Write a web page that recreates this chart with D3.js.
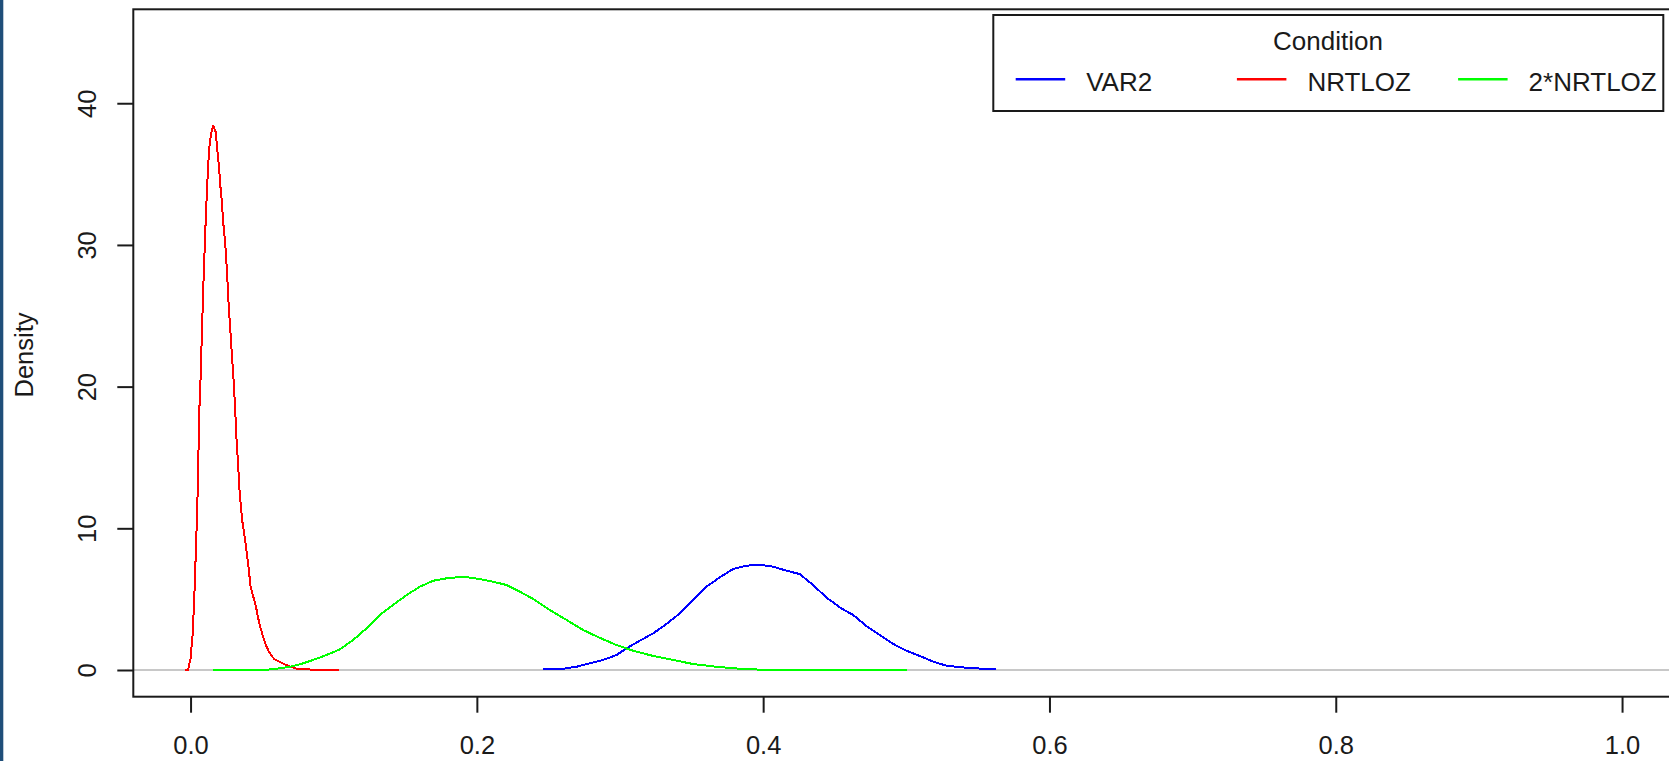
<!DOCTYPE html>
<html>
<head>
<meta charset="utf-8">
<script src="https://cdn.jsdelivr.net/npm/d3@7"></script>
<style>
  html, body { margin: 0; padding: 0; background: #ffffff; }
  svg { display: block; }
  text { font-family: "Liberation Sans", Arial, sans-serif; fill: #1a1a1a; }
</style>
</head>
<body>
<svg id="chart" width="1669" height="761"></svg>
<script>
// Kernel density estimates of the three conditions: [value, density]
const var2Density = [
  [0.2459, 0.05], [0.2603, 0.09], [0.2696, 0.23], [0.2789, 0.47], [0.2882, 0.71],
  [0.2976, 1.06], [0.3046, 1.53], [0.3139, 2.07], [0.3232, 2.59], [0.3325, 3.25],
  [0.3418, 4.00], [0.3511, 4.94], [0.3604, 5.88], [0.3697, 6.54], [0.3790, 7.13],
  [0.3884, 7.36], [0.3977, 7.43], [0.4070, 7.29], [0.4163, 7.01], [0.4256, 6.77],
  [0.4349, 5.99], [0.4442, 5.12], [0.4535, 4.42], [0.4629, 3.88], [0.4722, 3.10],
  [0.4815, 2.47], [0.4908, 1.84], [0.5002, 1.36], [0.5095, 0.99], [0.5188, 0.59],
  [0.5281, 0.30], [0.5421, 0.16], [0.5561, 0.07], [0.5630, 0.07]
];

const nrtlozDensity = [
  [-0.0036, 0.00], [-0.0017, 0.00], [0.0000, 0.82], [0.0014, 2.47], [0.0025, 4.80],
  [0.0039, 8.96], [0.0051, 13.0], [0.0060, 18.0], [0.0070, 20.6], [0.0081, 24.4],
  [0.0093, 28.2], [0.0105, 31.5], [0.0116, 34.2], [0.0126, 36.1], [0.0135, 37.3],
  [0.0147, 38.0], [0.0158, 38.4], [0.0175, 38.0], [0.0186, 36.8], [0.0198, 35.6],
  [0.0207, 34.3], [0.0219, 33.0], [0.0228, 31.6], [0.0242, 30.1], [0.0254, 28.2],
  [0.0265, 26.0], [0.0277, 24.1], [0.0289, 22.2], [0.0301, 20.4], [0.0312, 18.3],
  [0.0321, 16.3], [0.0333, 14.4], [0.0340, 12.9], [0.0351, 11.6], [0.0363, 10.4],
  [0.0377, 9.46], [0.0391, 8.40], [0.0407, 7.06], [0.0419, 5.93], [0.0437, 5.22],
  [0.0456, 4.52], [0.0472, 3.67], [0.0489, 2.96], [0.0507, 2.33], [0.0526, 1.76],
  [0.0545, 1.34], [0.0566, 0.99], [0.0589, 0.74], [0.0624, 0.56], [0.0659, 0.39],
  [0.0694, 0.25], [0.0736, 0.11], [0.0785, 0.05], [0.0819, 0.09], [0.0847, 0.00],
  [0.0938, 0.00], [0.1040, 0.00]
];

const nrtloz2Density = [
  [0.0158, 0.00], [0.0542, 0.03], [0.0601, 0.09], [0.0694, 0.23], [0.0764, 0.40],
  [0.0856, 0.71], [0.0950, 1.06], [0.1043, 1.46], [0.1136, 2.12], [0.1229, 2.94],
  [0.1322, 3.88], [0.1415, 4.59], [0.1509, 5.29], [0.1602, 5.88], [0.1695, 6.30],
  [0.1788, 6.47], [0.1904, 6.58], [0.2021, 6.42], [0.2114, 6.23], [0.2207, 6.00],
  [0.2300, 5.53], [0.2393, 5.02], [0.2510, 4.23], [0.2627, 3.53], [0.2743, 2.82],
  [0.2859, 2.27], [0.2976, 1.76], [0.3092, 1.36], [0.3232, 0.99], [0.3371, 0.71],
  [0.3511, 0.42], [0.3674, 0.23], [0.3837, 0.09], [0.4035, 0.00], [0.5002, 0.00]
];

const conditions = ["VAR2", "NRTLOZ", "2*NRTLOZ"];
const conditionColors = ["#0000ff", "#ff0000", "#00ff00"];
const xTicks = [0.0, 0.2, 0.4, 0.6, 0.8, 1.0];
const yTicks = [0, 10, 20, 30, 40];
const legendTitle = "Condition";
const yTitle = "Density";

const series = [var2Density, nrtlozDensity, nrtloz2Density];

const svg = d3.select("#chart");
const W = 1669, H = 761;

// plotting region (right side runs past the canvas edge)
const plotLeft = 133.3, plotTop = 9.3, plotBottom = 696.7;
const unitPx = 1431.5;            // pixels per 1.0 on the x axis
const x = d3.scaleLinear()
  .domain([-0.04, 1.04])
  .range([plotLeft, plotLeft + 1.08 * unitPx]);
const y = d3.scaleLinear()
  .domain([-1.884, 46.63])
  .range([plotBottom, plotTop]);

svg.append("rect").attr("width", W).attr("height", H).attr("fill", "#ffffff");
// dark stripe on the left edge
svg.append("rect").attr("x", 0).attr("y", 0).attr("width", 3.3).attr("height", H).attr("fill", "#1f4e79");

// zero reference line
svg.append("line")
  .attr("x1", plotLeft).attr("x2", W)
  .attr("y1", y(0)).attr("y2", y(0))
  .attr("stroke", "#c8c8c8").attr("stroke-width", 2);

// density curves
const line = d3.line().x(d => x(d[0])).y(d => y(d[1]));
series.forEach((s, i) => {
  svg.append("path")
    .datum(s)
    .attr("d", line)
    .attr("fill", "none")
    .attr("stroke", conditionColors[i])
    .attr("stroke-width", 2)
    .attr("stroke-linejoin", "round")
    .attr("shape-rendering", "crispEdges");
});

// plot frame
svg.append("rect")
  .attr("x", plotLeft).attr("y", plotTop)
  .attr("width", 1600).attr("height", plotBottom - plotTop)
  .attr("fill", "none").attr("stroke", "#1a1a1a").attr("stroke-width", 2);

// x axis
const gx = svg.append("g")
  .attr("transform", `translate(0,${plotBottom})`)
  .call(d3.axisBottom(x).tickValues(xTicks).tickFormat(d3.format(".1f")).tickSize(16));
gx.select(".domain").remove();
gx.selectAll(".tick line").attr("stroke", "#1a1a1a").attr("stroke-width", 2);
gx.selectAll(".tick text")
  .attr("y", 57).attr("dy", 0)
  .style("font-size", "25.5px")
  .attr("fill", "#1a1a1a");

// y axis
const gy = svg.append("g")
  .attr("transform", `translate(${plotLeft},0)`)
  .call(d3.axisLeft(y).tickValues(yTicks).tickFormat(d3.format("d")).tickSize(16));
gy.select(".domain").remove();
gy.selectAll(".tick line").attr("stroke", "#1a1a1a").attr("stroke-width", 2);
gy.selectAll(".tick text")
  .attr("x", 0).attr("y", 0).attr("dy", 0)
  .attr("text-anchor", "middle")
  .attr("transform", "translate(-37,0) rotate(-90)")
  .style("font-size", "25.5px")
  .attr("fill", "#1a1a1a");

// y title
svg.append("text")
  .attr("transform", `translate(33,${(plotTop + plotBottom) / 2 + 2}) rotate(-90)`)
  .attr("text-anchor", "middle")
  .style("font-size", "25.5px")
  .text(yTitle);

// legend
const lg = svg.append("g");
lg.append("rect")
  .attr("x", 993.3).attr("y", 15)
  .attr("width", 670).attr("height", 96)
  .attr("fill", "#ffffff").attr("stroke", "#1a1a1a").attr("stroke-width", 2);
lg.append("text")
  .attr("x", 1328).attr("y", 50)
  .attr("text-anchor", "middle")
  .style("font-size", "26px")
  .text(legendTitle);
const entryStep = 221.2;
conditions.forEach((c, i) => {
  const x0 = 1015.7 + i * entryStep;
  lg.append("line")
    .attr("x1", x0).attr("x2", x0 + 49.5)
    .attr("y1", 79.3).attr("y2", 79.3)
    .attr("stroke", conditionColors[i]).attr("stroke-width", 2.6);
  lg.append("text")
    .attr("x", x0 + 70.5).attr("y", 91)
    .style("font-size", "26px")
    .text(c);
});
</script>
</body>
</html>
